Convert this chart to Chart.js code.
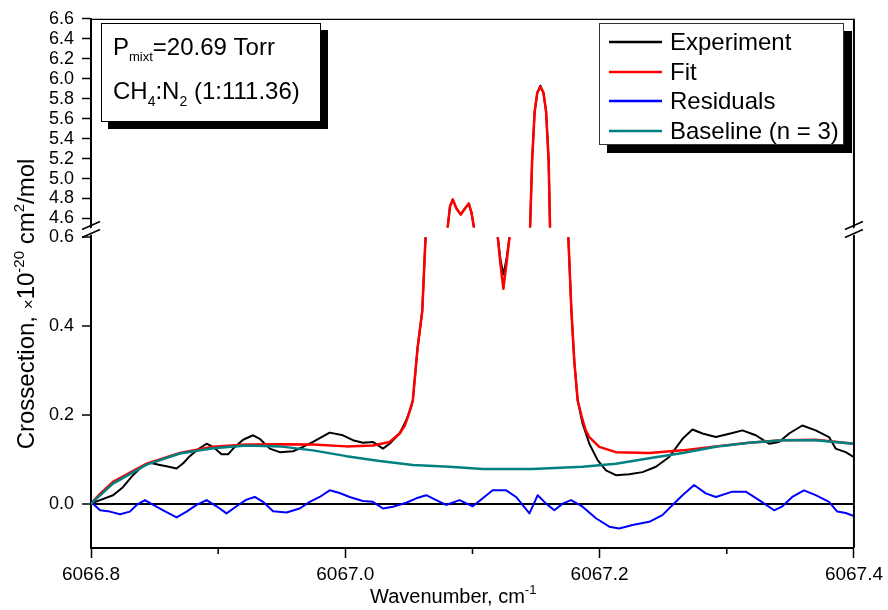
<!DOCTYPE html>
<html><head><meta charset="utf-8">
<script src="https://cdn.jsdelivr.net/npm/chart.js@4.4.1/dist/chart.umd.min.js"></script>
<style>html,body{margin:0;padding:0;background:#fff;}#wrap{width:888px;height:610px;position:relative;}</style>
</head><body><div id="wrap"><canvas id="c" width="888" height="610"></canvas></div>
<script>
// ---------- data ----------
const expX = [6066.8000,6066.8071,6066.8173,6066.8251,6066.8330,6066.8398,6066.8463,6066.8542,6066.8594,6066.8673,6066.8725,6066.8777,6066.8830,6066.8909,6066.8960,6066.9026,6066.9078,6066.9118,6066.9196,6066.9275,6066.9327,6066.9406,6066.9484,6066.9589,6066.9667,6066.9746,6066.9877,6066.9981,6067.0060,6067.0138,6067.0217,6067.0296,6067.0348,6067.0427,6067.0479,6067.0519,6067.0531,6067.0568,6067.0605,6067.0631,6067.0804,6067.0823,6067.0845,6067.0874,6067.0908,6067.0941,6067.0971,6067.0992,6067.1013,6067.1199,6067.1220,6067.1243,6067.1267,6067.1291,6067.1453,6067.1469,6067.1489,6067.1510,6067.1534,6067.1558,6067.1579,6067.1599,6067.1610,6067.1754,6067.1778,6067.1801,6067.1827,6067.1866,6067.1919,6067.1984,6067.2050,6067.2128,6067.2233,6067.2337,6067.2443,6067.2547,6067.2652,6067.2730,6067.2809,6067.2914,6067.3044,6067.3123,6067.3228,6067.3332,6067.3411,6067.3490,6067.3594,6067.3699,6067.3804,6067.3856,6067.3935,6067.4000];
const expY = [0.000,0.008,0.019,0.037,0.064,0.083,0.092,0.087,0.084,0.079,0.091,0.107,0.120,0.135,0.128,0.111,0.111,0.124,0.144,0.154,0.146,0.124,0.116,0.118,0.128,0.139,0.160,0.154,0.143,0.137,0.139,0.124,0.135,0.158,0.188,0.218,0.233,0.350,0.434,0.600,4.50,4.72,4.79,4.70,4.64,4.70,4.75,4.66,4.50,0.600,0.550,0.516,0.550,0.600,4.50,5.18,5.67,5.86,5.93,5.86,5.67,5.18,4.50,0.600,0.434,0.320,0.233,0.180,0.135,0.098,0.075,0.064,0.066,0.071,0.083,0.105,0.146,0.167,0.158,0.150,0.159,0.165,0.154,0.135,0.139,0.158,0.176,0.165,0.150,0.124,0.116,0.105];

const fitX = [6066.8000,6066.8071,6066.8173,6066.8437,6066.8699,6066.8960,6066.9223,6066.9484,6066.9746,6067.0008,6067.0217,6067.0348,6067.0427,6067.0466,6067.0492,6067.0531,6067.0568,6067.0605,6067.0631,6067.0804,6067.0823,6067.0845,6067.0874,6067.0908,6067.0941,6067.0971,6067.0992,6067.1013,6067.1199,6067.1220,6067.1243,6067.1267,6067.1291,6067.1453,6067.1469,6067.1489,6067.1510,6067.1534,6067.1558,6067.1579,6067.1599,6067.1610,6067.1754,6067.1778,6067.1801,6067.1827,6067.1866,6067.1891,6067.1919,6067.1997,6067.2128,6067.2390,6067.2652,6067.2914,6067.3175,6067.3437,6067.3699,6067.4000];
const fitY = [0.000,0.022,0.049,0.090,0.114,0.128,0.133,0.134,0.133,0.129,0.131,0.139,0.158,0.175,0.195,0.233,0.350,0.434,0.600,4.50,4.72,4.79,4.70,4.64,4.70,4.75,4.66,4.50,0.600,0.540,0.484,0.540,0.600,4.50,5.18,5.67,5.86,5.92,5.86,5.67,5.18,4.50,0.600,0.434,0.320,0.233,0.188,0.165,0.150,0.128,0.116,0.114,0.120,0.129,0.137,0.143,0.144,0.135];

const resX = [6066.8000,6066.8071,6066.8149,6066.8228,6066.8306,6066.8359,6066.8424,6066.8489,6066.8568,6066.8673,6066.8752,6066.8830,6066.8909,6066.8987,6066.9066,6066.9144,6066.9223,6066.9288,6066.9353,6066.9432,6066.9537,6066.9641,6066.9720,6066.9798,6066.9877,6066.9955,6067.0034,6067.0138,6067.0217,6067.0296,6067.0374,6067.0479,6067.0558,6067.0636,6067.0715,6067.0793,6067.0898,6067.1002,6067.1081,6067.1159,6067.1265,6067.1343,6067.1448,6067.1513,6067.1579,6067.1644,6067.1709,6067.1775,6067.1866,6067.1971,6067.2076,6067.2154,6067.2259,6067.2390,6067.2494,6067.2573,6067.2652,6067.2743,6067.2835,6067.2914,6067.3044,6067.3149,6067.3254,6067.3372,6067.3437,6067.3515,6067.3607,6067.3699,6067.3804,6067.3869,6067.3935,6067.4000];
const resY = [0.004,-0.015,-0.018,-0.024,-0.018,-0.003,0.008,-0.003,-0.015,-0.031,-0.018,-0.003,0.008,-0.006,-0.022,-0.006,0.009,0.015,0.004,-0.017,-0.020,-0.011,0.004,0.015,0.030,0.024,0.015,0.006,0.004,-0.011,-0.007,0.002,0.012,0.019,0.008,-0.003,0.008,-0.006,0.012,0.030,0.030,0.015,-0.022,0.019,0.000,-0.015,0.000,0.008,-0.007,-0.033,-0.052,-0.056,-0.048,-0.041,-0.026,-0.003,0.019,0.042,0.023,0.015,0.027,0.027,0.008,-0.015,-0.006,0.015,0.030,0.019,0.004,-0.018,-0.021,-0.028];

const baseX = [6066.8000,6066.8173,6066.8437,6066.8699,6066.8960,6066.9223,6066.9484,6066.9746,6067.0008,6067.0270,6067.0531,6067.0819,6067.1081,6067.1473,6067.1866,6067.2128,6067.2390,6067.2652,6067.2914,6067.3175,6067.3437,6067.3699,6067.4000];
const baseY = [0.000,0.045,0.088,0.113,0.125,0.131,0.129,0.120,0.107,0.096,0.087,0.083,0.078,0.078,0.083,0.090,0.102,0.114,0.128,0.137,0.143,0.143,0.135];

const seriesNames = ['Experiment','Fit','Residuals','Baseline (n = 3)'];
const xTicks = [6066.8, 6067.0, 6067.2, 6067.4];
const xMinorTicks = [6066.9, 6067.1, 6067.3];
const yLowTicks = [0.0, 0.2, 0.4, 0.6];
const yHighTicks = [4.6, 4.8, 5.0, 5.2, 5.4, 5.6, 5.8, 6.0, 6.2, 6.4, 6.6];
const pressureText = '=20.69 Torr';
const ratioText = ' (1:111.36)';

// ---------- styles ----------
const FONT = "'Liberation Sans', Arial, Helvetica, sans-serif";
const colors = ['#000000', '#ff0000', '#0000ff', '#008080'];
const widths = [2, 2.5, 2, 2.5];
const LOW_CLIP = 0.6;

function pts(xs, ys) { return xs.map((x, i) => ({ x: x, y: ys[i] })); }
function line(i, data, axis, showInLegend) {
  return { label: seriesNames[i], data: data, yAxisID: axis, borderColor: colors[i], backgroundColor: colors[i],
    borderWidth: widths[i], borderJoinStyle: 'round', borderCapStyle: 'round',
    pointRadius: 0, fill: false, tension: 0, order: 4 - i, inLegend: showInLegend };
}
const datasets = [
  line(0, pts(expX, expY), 'yLow', true),
  line(0, pts(expX, expY), 'yHigh', false),
  line(1, pts(fitX, fitY), 'yLow', true),
  line(1, pts(fitX, fitY), 'yHigh', false),
  line(2, pts(resX, resY), 'yLow', true),
  line(3, pts(baseX, baseY), 'yLow', true)
];

function drawRich(ctx, parts, x, y, align) {
  let total = 0;
  parts.forEach(p => { ctx.font = p.s + 'px ' + FONT; p.w = ctx.measureText(p.t).width; total += p.w; });
  let cx = align === 'center' ? x - total / 2 : x;
  ctx.textAlign = 'left'; ctx.textBaseline = 'alphabetic';
  parts.forEach(p => { ctx.font = p.s + 'px ' + FONT; ctx.fillText(p.t, cx, y + (p.dy || 0)); cx += p.w; });
}

const clipPlugin = {
  id: 'axisClip',
  beforeDatasetDraw(chart, args) {
    const ds = chart.data.datasets[args.index];
    const sc = chart.scales[ds.yAxisID];
    const ca = chart.chartArea;
    let top, bottom;
    if (ds.yAxisID === 'yLow') { top = sc.getPixelForValue(LOW_CLIP); bottom = ca.bottom; }
    else { top = ca.top; bottom = sc.bottom - 1; }
    const ctx = chart.ctx;
    ctx.save(); ctx.beginPath(); ctx.rect(ca.left - 3, top, ca.right - ca.left + 6, bottom - top); ctx.clip();
  },
  afterDatasetDraw(chart) { chart.ctx.restore(); }
};

const decoPlugin = {
  id: 'deco',
  afterDraw(chart) {
    const ctx = chart.ctx, ca = chart.chartArea;
    const xs = chart.scales.x, yh = chart.scales.yHigh;
    ctx.save();
    ctx.strokeStyle = '#000'; ctx.fillStyle = '#000';
    // frame top & right
    ctx.lineWidth = 1.2; ctx.beginPath(); ctx.moveTo(ca.left, ca.top + 0.5); ctx.lineTo(ca.right, ca.top + 0.5); ctx.stroke();
    ctx.lineWidth = 2; ctx.beginPath(); ctx.moveTo(ca.right, ca.top); ctx.lineTo(ca.right, ca.bottom); ctx.stroke();
    // minor x ticks
    ctx.lineWidth = 1.5;
    xMinorTicks.forEach(v => { const px = xs.getPixelForValue(v); ctx.beginPath(); ctx.moveTo(px, ca.bottom); ctx.lineTo(px, ca.bottom + 6); ctx.stroke(); });
    // axis breaks
    const by = yh.bottom;
    [ca.left, ca.right].forEach(ax => {
      ctx.fillStyle = '#fff';
      ctx.beginPath(); ctx.moveTo(ax - 3, by + 1); ctx.lineTo(ax + 3, by - 2); ctx.lineTo(ax + 3, by + 5); ctx.lineTo(ax - 3, by + 8); ctx.closePath(); ctx.fill();
      ctx.strokeStyle = '#000'; ctx.lineWidth = 1.5;
      ctx.beginPath(); ctx.moveTo(ax - 9, by + 1); ctx.lineTo(ax + 9, by - 7); ctx.stroke();
      ctx.beginPath(); ctx.moveTo(ax - 9, by + 9); ctx.lineTo(ax + 9, by + 1); ctx.stroke();
    });
    ctx.fillStyle = '#000';
    // axis titles
    drawRich(ctx, [{ t: 'Wavenumber, cm', s: 20 }, { t: '-1', s: 13, dy: -9 }], 370, 603, 'left');
    ctx.save(); ctx.translate(34, 304); ctx.rotate(-Math.PI / 2);
    drawRich(ctx, [{ t: 'Crossection, ', s: 24 }, { t: '\u00d7', s: 17 }, { t: '10', s: 24 }, { t: '-20', s: 15, dy: -10 },
      { t: ' cm', s: 24 }, { t: '2', s: 15, dy: -10 }, { t: '/mol', s: 24 }], 0, 0, 'center');
    ctx.restore();
    // annotation box
    ctx.fillStyle = '#000'; ctx.fillRect(108, 30, 220, 99);
    ctx.fillStyle = '#fff'; ctx.fillRect(101, 23, 220, 99);
    ctx.strokeStyle = '#000'; ctx.lineWidth = 1; ctx.strokeRect(101.5, 23.5, 219, 98);
    ctx.fillStyle = '#000';
    drawRich(ctx, [{ t: 'P', s: 24 }, { t: 'mixt', s: 13, dy: 6 }, { t: pressureText, s: 24 }], 113, 55, 'left');
    drawRich(ctx, [{ t: 'CH', s: 24 }, { t: '4', s: 14, dy: 7 }, { t: ':N', s: 24 }, { t: '2', s: 14, dy: 7 }, { t: ratioText, s: 24 }], 113, 99, 'left');
    // legend box
    ctx.fillStyle = '#000'; ctx.fillRect(607, 31, 245, 122);
    ctx.fillStyle = '#fff'; ctx.fillRect(599, 23, 245, 122);
    ctx.strokeStyle = '#333'; ctx.lineWidth = 1; ctx.strokeRect(599.5, 23.5, 244, 121);
    const rowY = [42, 72, 101, 131];
    chart.data.datasets.filter(d => d.inLegend).forEach((d, i) => {
      ctx.strokeStyle = d.borderColor; ctx.lineWidth = 2.5;
      ctx.beginPath(); ctx.moveTo(609, rowY[i]); ctx.lineTo(662, rowY[i]); ctx.stroke();
      ctx.fillStyle = '#000'; ctx.font = '24px ' + FONT; ctx.textBaseline = 'middle'; ctx.textAlign = 'left';
      ctx.fillText(d.label, 670, rowY[i] + 1);
    });
    ctx.restore();
  }
};

const tickFont = { family: FONT, size: 18 };
new Chart(document.getElementById('c'), {
  type: 'line',
  data: { datasets: datasets },
  plugins: [clipPlugin, decoPlugin],
  options: {
    responsive: false, animation: false, devicePixelRatio: 1,
    layout: { padding: { left: 0, right: 33, top: 18, bottom: 0 } },
    plugins: { legend: { display: false }, tooltip: { enabled: false } },
    scales: {
      x: {
        type: 'linear', position: 'bottom', min: 6066.8, max: 6067.4,
        afterBuildTicks: s => { s.ticks = xTicks.map(v => ({ value: v })); },
        afterFit: s => { s.height = 62; },
        ticks: { callback: v => Number(v).toFixed(1), font: { family: FONT, size: 19 }, color: '#000', padding: 5, maxRotation: 0, autoSkip: false },
        grid: { drawOnChartArea: false, tickLength: 10, tickWidth: 1.5, tickColor: '#000' },
        border: { color: '#000', width: 2 }
      },
      yLow: {
        type: 'linear', position: 'left', stack: 'y', stackWeight: 3.2, min: -0.1, max: 0.62,
        afterBuildTicks: s => { s.ticks = yLowTicks.map(v => ({ value: v })); },
        afterFit: s => { s.width = 91; },
        ticks: { callback: v => Number(v).toFixed(1), font: tickFont, color: '#000', padding: 8, autoSkip: false },
        grid: { color: c => (c.tick && Math.abs(c.tick.value) < 1e-9) ? '#000' : 'rgba(0,0,0,0)', lineWidth: 2,
          tickLength: 9, tickWidth: 1.5, tickColor: '#000' },
        border: { color: '#000', width: 2 }
      },
      yHigh: {
        type: 'linear', position: 'left', stack: 'y', stackWeight: 2.1, min: 4.5, max: 6.6,
        afterBuildTicks: s => { s.ticks = yHighTicks.map(v => ({ value: v })); },
        afterFit: s => { s.width = 91; },
        ticks: { callback: v => Number(v).toFixed(1), font: tickFont, color: '#000', padding: 8, autoSkip: false },
        grid: { color: 'rgba(0,0,0,0)', tickLength: 9, tickWidth: 1.5, tickColor: '#000' },
        border: { color: '#000', width: 2 }
      }
    }
  }
});
</script></body></html>
